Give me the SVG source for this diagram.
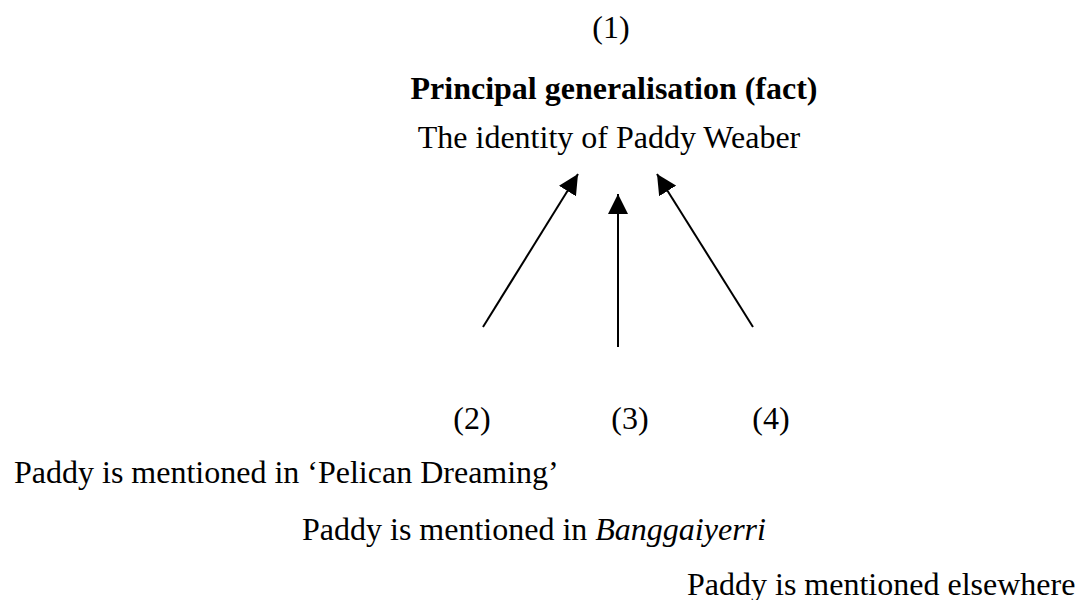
<svg xmlns="http://www.w3.org/2000/svg" width="1079" height="600" viewBox="0 0 1079 600">
<style>
.t{font-family:"Liberation Serif","Times New Roman",serif;font-size:32px;fill:#000}
.b{font-weight:bold}
.c{text-anchor:middle}
.conn line{stroke:#000;stroke-width:2;fill:none}
</style>
<defs>
<marker id="ah" markerUnits="userSpaceOnUse" markerWidth="20" markerHeight="20" refX="20" refY="10" orient="auto" viewBox="0 0 20 20">
<path d="M0,0 L20,10 L0,20 z" fill="#000"/>
</marker>
</defs>
<rect width="1079" height="600" fill="#fff"/>
<g id="node1">
<text class="t c" x="611" y="38">(1)</text>
<text class="t b c" x="614" y="99">Principal generalisation (fact)</text>
<text class="t c" x="609" y="148">The identity of Paddy Weaber</text>
</g>
<g class="conn" id="connectors">
<line x1="483" y1="327" x2="578" y2="174" marker-end="url(#ah)"/>
<line x1="618" y1="347" x2="618" y2="194" marker-end="url(#ah)"/>
<line x1="753" y1="327" x2="657" y2="174" marker-end="url(#ah)"/>
</g>
<g id="node2">
<text class="t c" x="472" y="429">(2)</text>
<text class="t" x="14" y="483">Paddy is mentioned in ‘Pelican Dreaming’</text>
</g>
<g id="node3">
<text class="t c" x="630" y="429">(3)</text>
<text class="t" x="302" y="540">Paddy is mentioned in <tspan font-style="italic">Banggaiyerri</tspan></text>
</g>
<g id="node4">
<text class="t c" x="771" y="429">(4)</text>
<text class="t" x="687" y="595">Paddy is mentioned elsewhere</text>
</g>
</svg>
